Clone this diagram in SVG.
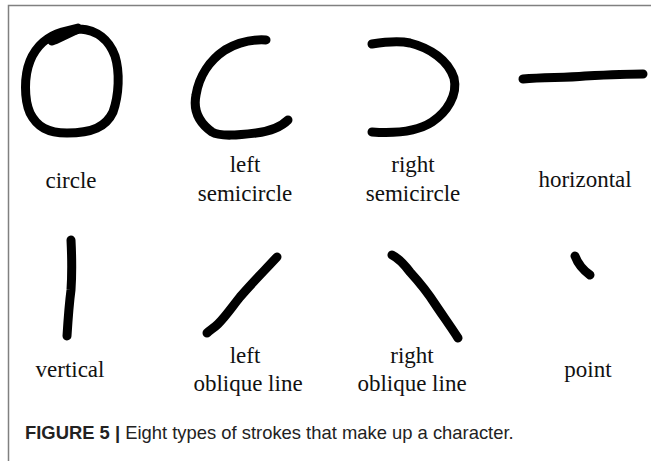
<svg xmlns="http://www.w3.org/2000/svg" width="651" height="461" viewBox="0 0 651 461">
<style>
.s{fill:none;stroke:#000;stroke-width:9;stroke-linecap:round;stroke-linejoin:round}
.t{font-family:"Liberation Serif","Times New Roman",serif;font-size:23px;fill:#111;text-anchor:middle}
.c{font-family:"Liberation Sans",Arial,sans-serif;font-size:18.4px;fill:#222}
</style>
<rect width="651" height="461" fill="#fff"/>
<path d="M8.5,461 V5.5 H651" fill="none" stroke="#808080" stroke-width="1.5"/>
<g id="circle">
<path class="s" d="M52,41 C60,35 68,31 80,29 C97,30 109,40 115,56 C120,72 119,95 113,112 C106,127 92,133 67,133 C48,133 37,127 30,113 C24,99 24,76 30,61 C36,46 48,36 62,32 L78,28"/>
<path class="s" d="M55,40 L76,30"/>
<text class="t" x="71" y="188">circle</text>
</g>
<g id="left-semicircle">
<path class="s" d="M266,40 C250,39 237,43 225,50 C210,60 199,76 196,95 C193,110 198,122 212,132 C220,137 240,135 256,133 C272,131 282,126 288,120"/>
<text class="t" x="245" y="172">left</text>
<text class="t" x="245" y="201">semicircle</text>
</g>
<g id="right-semicircle">
<path class="s" d="M372,44 C385,42 400,41 410,43 C430,48 448,60 454,78 C458,95 447,112 432,122 C418,131 400,134 372,132"/>
<text class="t" x="413" y="172">right</text>
<text class="t" x="413" y="201">semicircle</text>
</g>
<g id="horizontal">
<path class="s" d="M523,79 C545,77 565,78 585,76 C605,75 625,74 643,74"/>
<text class="t" x="585" y="187">horizontal</text>
</g>
<g id="vertical">
<path class="s" d="M71,240 C72,260 72,275 71,290 C69,305 68,320 67,336"/>
<text class="t" x="70" y="377">vertical</text>
</g>
<g id="left-oblique-line">
<path class="s" d="M277,257 C265,270 252,283 240,297 C232,307 226,316 218,324 C214,328 210,330 207,333"/>
<text class="t" x="245" y="363">left</text>
<text class="t" x="248" y="391">oblique line</text>
</g>
<g id="point">
<path class="s" stroke-width="12" d="M575,256 C578,264 583,270 590,275"/>
<text class="t" x="588" y="377">point</text>
</g>
<g id="right-oblique-line">
<path class="s" d="M392,255 C398,258 404,264 410,272 C420,283 428,293 435,304 C443,316 451,327 458,338"/>
<text class="t" x="412" y="363">right</text>
<text class="t" x="412" y="391">oblique line</text>
</g>
<text class="c" x="25" y="439"><tspan font-weight="bold">FIGURE 5 | </tspan>Eight types of strokes that make up a character.</text>
</svg>
